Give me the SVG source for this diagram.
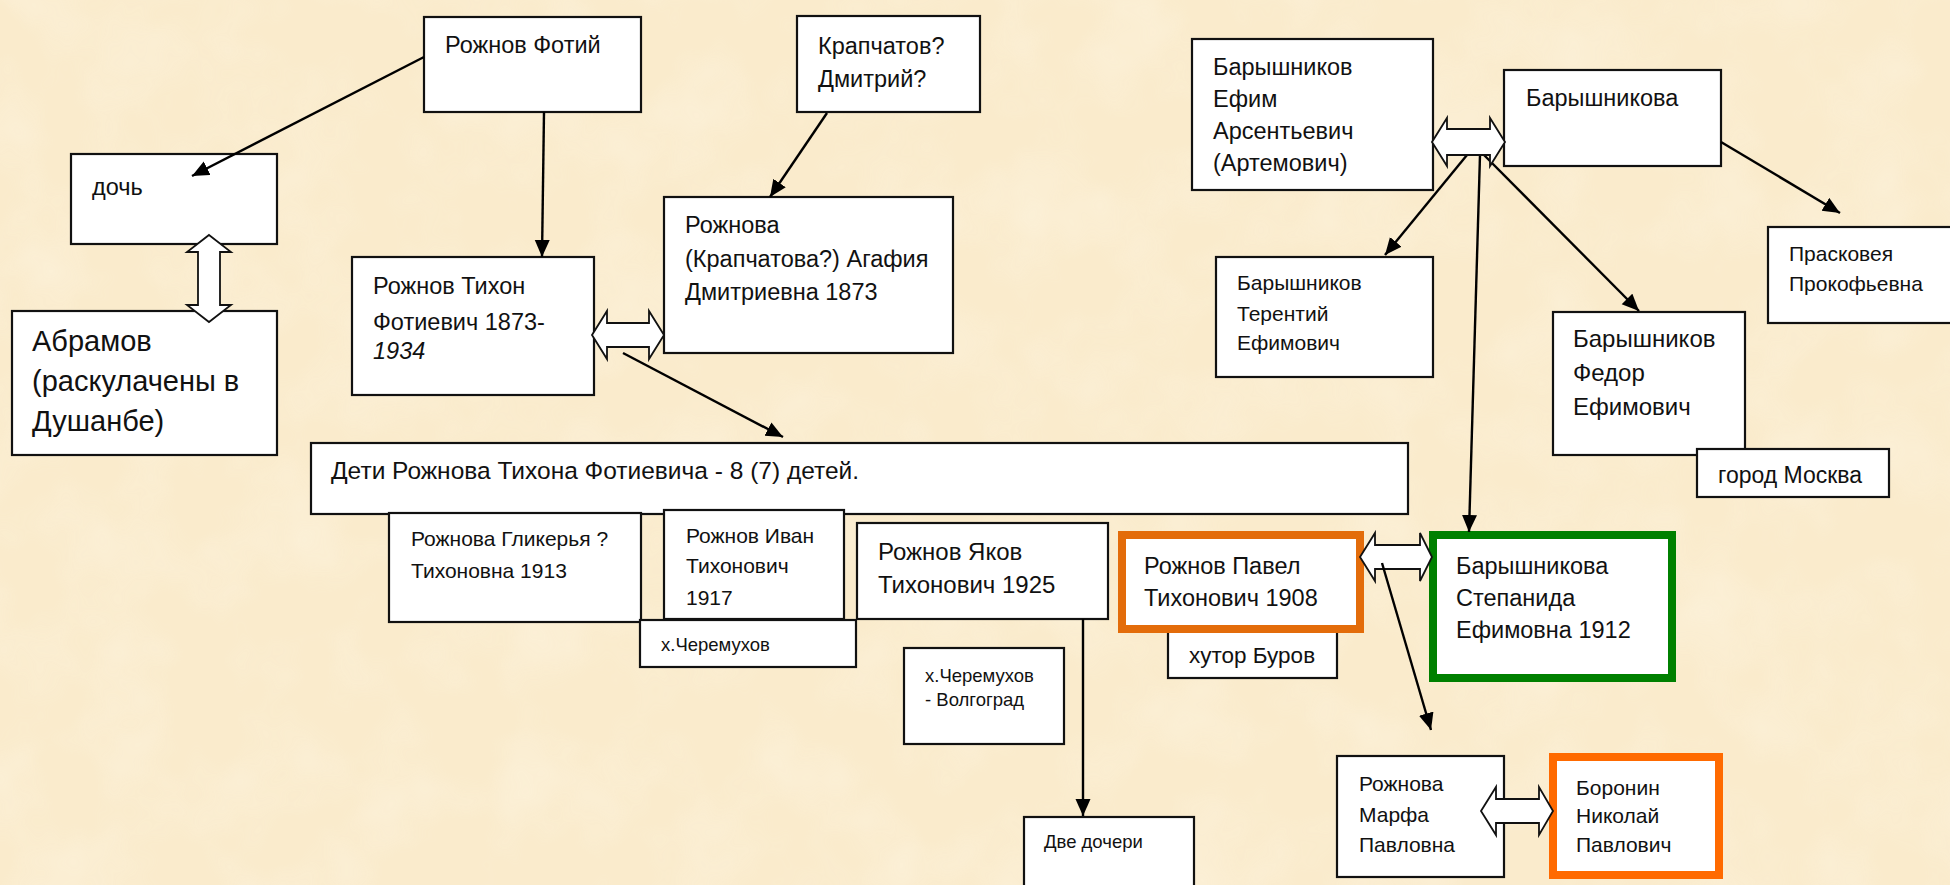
<svg xmlns="http://www.w3.org/2000/svg" width="1950" height="885" viewBox="0 0 1950 885">
<style>
.bg{fill:#FAEBCC}
.box{fill:#fff;stroke:#111;stroke-width:2.2}
.orange{fill:#fff;stroke:#E36C0A;stroke-width:8}
.orange2{fill:#fff;stroke:#FF6A00;stroke-width:8}
.green{fill:#fff;stroke:#008000;stroke-width:8}
text{font-family:"Liberation Sans",Arial,sans-serif;fill:#111}
.t{font-size:23.5px}
.m{font-size:21px}
.s{font-size:18.5px}
.l{font-size:29px}
.ln{stroke:#000;stroke-width:2.4;fill:none;marker-end:url(#ah)}
.blk{fill:#fff;stroke:#111;stroke-width:1.8;stroke-linejoin:miter}
</style>
<defs>
<marker id="ah" markerUnits="userSpaceOnUse" markerWidth="18" markerHeight="16" refX="17" refY="7.5" orient="auto">
<path d="M0,0 L17,7.5 L0,15 z" fill="#000"/>
</marker>
<filter id="paper" x="0" y="0" width="100%" height="100%">
<feTurbulence type="fractalNoise" baseFrequency="0.012" numOctaves="3" seed="7"/>
<feColorMatrix type="matrix" values="0 0 0 0 1  0 0 0 0 0.97  0 0 0 0 0.88  0 0 0 0.9 -0.35"/>
</filter>
</defs>
<rect class="bg" x="0" y="0" width="1950" height="885"/>
<rect x="0" y="0" width="1950" height="885" filter="url(#paper)" opacity="0.6"/>

<g id="n-fotiy"><rect class="box" x="424" y="17" width="217" height="95"/><text class="t" x="445" y="53">Рожнов Фотий</text></g>
<g id="n-krapchatov"><rect class="box" x="797" y="16" width="183" height="96"/><text class="t" x="818" y="54">Крапчатов?</text><text class="t" x="818" y="87">Дмитрий?</text></g>
<g id="n-doch"><rect class="box" x="71" y="154" width="206" height="90"/><text class="t" x="92" y="195">дочь</text></g>
<g id="n-abramov"><rect class="box" x="12" y="311" width="265" height="144"/><text class="l" x="32" y="351">Абрамов</text><text class="l" x="32" y="391">(раскулачены в</text><text class="l" x="32" y="431">Душанбе)</text></g>
<g id="n-tikhon"><rect class="box" x="352" y="257" width="242" height="138"/><text class="t" x="373" y="294">Рожнов Тихон</text><text class="t" x="373" y="330">Фотиевич 1873-</text><text class="t" x="373" y="359" font-style="italic">1934</text></g>
<g id="n-agafia"><rect class="box" x="664" y="197" width="289" height="156"/><text class="t" x="685" y="233">Рожнова</text><text class="t" x="685" y="267">(Крапчатова?) Агафия</text><text class="t" x="685" y="300">Дмитриевна 1873</text></g>
<g id="n-deti"><rect class="box" x="311" y="443" width="1097" height="71"/><text x="331" y="479" font-size="24.5">Дети Рожнова Тихона Фотиевича - 8 (7) детей.</text></g>
<g id="n-glikeria"><rect class="box" x="389" y="513" width="252" height="109"/><text class="m" x="411" y="546">Рожнова Гликерья ?</text><text class="m" x="411" y="578">Тихоновна 1913</text></g>
<g id="n-ivan"><rect class="box" x="664" y="510" width="180" height="109"/><text class="m" x="686" y="543">Рожнов Иван</text><text class="m" x="686" y="573">Тихонович</text><text class="m" x="686" y="605">1917</text></g>
<g id="n-cheremukhov"><rect class="box" x="640" y="620" width="216" height="47"/><text class="s" x="661" y="651">х.Черемухов</text></g>
<g id="n-yakov"><rect class="box" x="857" y="523" width="251" height="96"/><text x="878" y="560" font-size="24">Рожнов Яков</text><text x="878" y="593" font-size="24">Тихонович 1925</text></g>
<g id="n-volgograd"><rect class="box" x="904" y="648" width="160" height="96"/><text class="s" x="925" y="682">х.Черемухов</text><text class="s" x="925" y="706">- Волгоград</text></g>
<g id="n-docheri"><rect class="box" x="1024" y="817" width="170" height="80"/><text class="s" x="1044" y="848">Две дочери</text></g>
<g id="n-burov"><rect class="box" x="1168" y="630" width="169" height="48"/><text x="1189" y="663" font-size="22.5">хутор Буров</text></g>
<g id="n-pavel"><rect class="orange" x="1122" y="535" width="238" height="94"/><text class="t" x="1144" y="574">Рожнов Павел</text><text class="t" x="1144" y="606">Тихонович 1908</text></g>
<g id="n-stepanida"><rect class="green" x="1433" y="535" width="239" height="143"/><text class="t" x="1456" y="574">Барышникова</text><text class="t" x="1456" y="606">Степанида</text><text class="t" x="1456" y="638">Ефимовна 1912</text></g>
<g id="n-efim"><rect class="box" x="1192" y="39" width="241" height="151"/><text class="t" x="1213" y="75">Барышников</text><text class="t" x="1213" y="107">Ефим</text><text class="t" x="1213" y="139">Арсентьевич</text><text class="t" x="1213" y="171">(Артемович)</text></g>
<g id="n-baryshnikova"><rect class="box" x="1504" y="70" width="217" height="96"/><text class="t" x="1526" y="106">Барышникова</text></g>
<g id="n-terentiy"><rect class="box" x="1216" y="257" width="217" height="120"/><text class="m" x="1237" y="290">Барышников</text><text class="m" x="1237" y="321">Терентий</text><text class="m" x="1237" y="350">Ефимович</text></g>
<g id="n-praskoveya"><rect class="box" x="1768" y="227" width="200" height="96"/><text class="m" x="1789" y="261">Прасковея</text><text class="m" x="1789" y="291">Прокофьевна</text></g>
<g id="n-fedor"><rect class="box" x="1553" y="312" width="192" height="143"/><text x="1573" y="347" font-size="24">Барышников</text><text x="1573" y="381" font-size="24">Федор</text><text x="1573" y="415" font-size="24">Ефимович</text></g>
<g id="n-moskva"><rect class="box" x="1697" y="449" width="192" height="48"/><text x="1718" y="483" font-size="23">город Москва</text></g>
<g id="n-marfa"><rect class="box" x="1337" y="756" width="167" height="121"/><text class="m" x="1359" y="791">Рожнова</text><text class="m" x="1359" y="822">Марфа</text><text class="m" x="1359" y="852">Павловна</text></g>
<g id="n-boronin"><rect class="orange2" x="1553" y="757" width="166" height="118"/><text class="m" x="1576" y="795">Боронин</text><text class="m" x="1576" y="823">Николай</text><text class="m" x="1576" y="852">Павлович</text></g>

<g id="connectors">
<line class="ln" x1="424" y1="57" x2="192" y2="176"/>
<line class="ln" x1="544" y1="112" x2="542" y2="257"/>
<line class="ln" x1="827" y1="113" x2="770" y2="197"/>
<line class="ln" x1="623" y1="353" x2="783" y2="437"/>
<line class="ln" x1="1467" y1="155" x2="1385" y2="255"/>
<line class="ln" x1="1480" y1="155" x2="1469" y2="532"/>
<line class="ln" x1="1484" y1="155" x2="1639" y2="311"/>
<line class="ln" x1="1721" y1="142" x2="1840" y2="213"/>
<line class="ln" x1="1083" y1="619" x2="1083" y2="816"/>
<polygon class="blk" points="209,235 231,252 220,252 220,305 231,305 209,322 187,305 198,305 198,252 187,252"/>
<polygon class="blk" points="592,335 607,311 607,323 649,323 649,311 664,335 649,359 649,347 607,347 607,359"/>
<polygon class="blk" points="1432,142 1447,118 1447,129 1490,129 1490,118 1505,142 1490,166 1490,155 1447,155 1447,166"/>
<polygon class="blk" points="1360,557 1375,533 1375,545 1420,545 1420,533 1432,557 1420,581 1420,569 1375,569 1375,581"/>
<polygon class="blk" points="1481,811 1496,787 1496,799 1539,799 1539,787 1553,811 1539,835 1539,823 1496,823 1496,835"/>
<line class="ln" x1="1382" y1="563" x2="1431" y2="730"/>
</g>
</svg>
